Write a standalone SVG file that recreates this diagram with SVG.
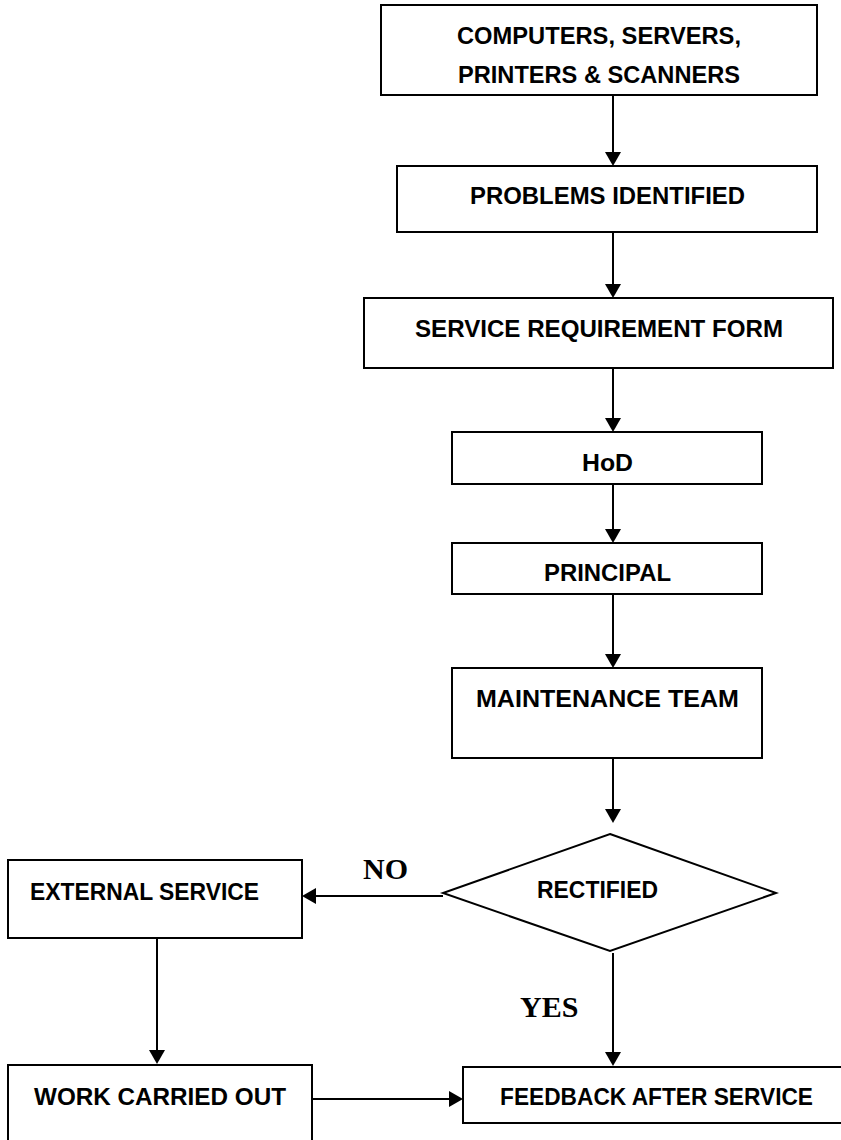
<svg xmlns="http://www.w3.org/2000/svg" width="841" height="1140" viewBox="0 0 841 1140">
<style>
.box{fill:#fff;stroke:#000;stroke-width:2}
.t{font-family:"Liberation Sans",Arial,sans-serif;font-weight:bold;font-size:24.5px;fill:#000}
.l{font-family:"Liberation Serif","Times New Roman",serif;font-weight:bold;font-size:30px;fill:#000}
.ln{fill:none;stroke:#000;stroke-width:2}
.ah{fill:#000}
</style>
<rect width="841" height="1140" fill="#fff"/>
<g id="connectors">
<path class="ln" d="M613,95 V160"/>
<polygon class="ah" points="605,152 621,152 613,166"/>
<path class="ln" d="M613,232 V292"/>
<polygon class="ah" points="605,284 621,284 613,298"/>
<path class="ln" d="M613,368 V426"/>
<polygon class="ah" points="605,418 621,418 613,432"/>
<path class="ln" d="M613,484 V537"/>
<polygon class="ah" points="605,529 621,529 613,543"/>
<path class="ln" d="M613,594 V662"/>
<polygon class="ah" points="605,654 621,654 613,668"/>
<path class="ln" d="M613,758 V817"/>
<polygon class="ah" points="605,809 621,809 613,823"/>
<path class="ln" d="M443,896 H308"/>
<polygon class="ah" points="316,888 316,904 302,896"/>
<path class="ln" d="M613,953 V1060"/>
<polygon class="ah" points="605,1052 621,1052 613,1066"/>
<path class="ln" d="M157,938 V1058"/>
<polygon class="ah" points="149,1050 165,1050 157,1064"/>
<path class="ln" d="M312,1099 H457"/>
<polygon class="ah" points="449,1091 449,1107 463,1099"/>
<text class="l" x="363" y="879">NO</text>
<text class="l" x="520" y="1017">YES</text>
</g>
<g id="n1">
<rect class="box" x="381" y="5" width="436" height="90"/>
<text class="t" x="457" y="44" textLength="284" lengthAdjust="spacingAndGlyphs">COMPUTERS, SERVERS,</text>
<text class="t" x="458" y="83" textLength="282" lengthAdjust="spacingAndGlyphs">PRINTERS &amp; SCANNERS</text>
</g>
<g id="n2">
<rect class="box" x="397" y="166" width="420" height="66"/>
<text class="t" x="470" y="204" textLength="275" lengthAdjust="spacingAndGlyphs">PROBLEMS IDENTIFIED</text>
</g>
<g id="n3">
<rect class="box" x="364" y="298" width="469" height="70"/>
<text class="t" x="415" y="337" textLength="368" lengthAdjust="spacingAndGlyphs">SERVICE REQUIREMENT FORM</text>
</g>
<g id="n4">
<rect class="box" x="452" y="432" width="310" height="52"/>
<text class="t" x="582" y="471" textLength="51" lengthAdjust="spacingAndGlyphs">HoD</text>
</g>
<g id="n5">
<rect class="box" x="452" y="543" width="310" height="51"/>
<text class="t" x="544" y="581" textLength="127" lengthAdjust="spacingAndGlyphs">PRINCIPAL</text>
</g>
<g id="n6">
<rect class="box" x="452" y="668" width="310" height="90"/>
<text class="t" x="476" y="707" textLength="263" lengthAdjust="spacingAndGlyphs">MAINTENANCE TEAM</text>
</g>
<g id="n7">
<polygon class="box" points="610,834 776,893 610,951 443,893"/>
<text class="t" x="537" y="898" textLength="121" lengthAdjust="spacingAndGlyphs">RECTIFIED</text>
</g>
<g id="n8">
<rect class="box" x="8" y="860" width="294" height="78"/>
<text class="t" x="30" y="900" textLength="229" lengthAdjust="spacingAndGlyphs">EXTERNAL SERVICE</text>
</g>
<g id="n9">
<rect class="box" x="8" y="1065" width="304" height="80"/>
<text class="t" x="34" y="1105" textLength="252" lengthAdjust="spacingAndGlyphs">WORK CARRIED OUT</text>
</g>
<g id="n10">
<rect class="box" x="463" y="1067" width="380" height="56"/>
<text class="t" x="500" y="1105" textLength="313" lengthAdjust="spacingAndGlyphs">FEEDBACK AFTER SERVICE</text>
</g>
</svg>
